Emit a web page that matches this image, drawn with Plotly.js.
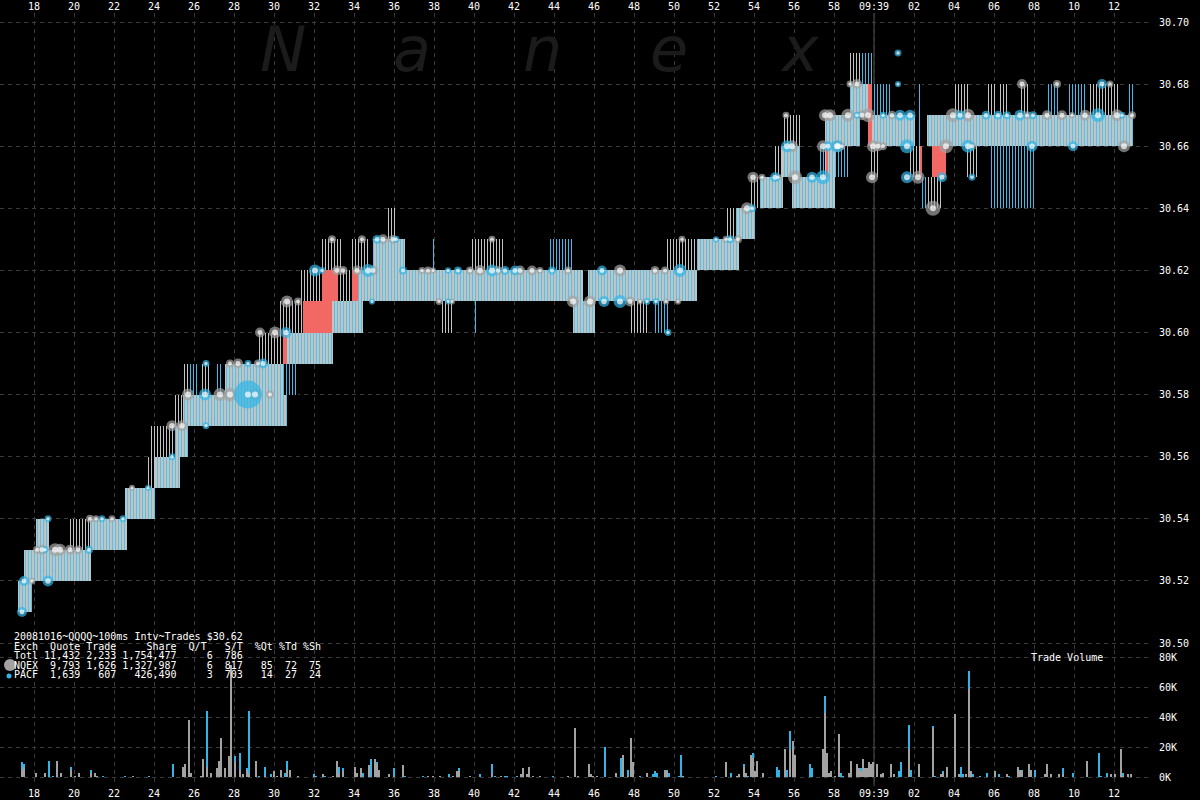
<!DOCTYPE html>
<html><head><meta charset="utf-8">
<script src="https://cdn.plot.ly/plotly-3.0.1.min.js"></script>
<style>html,body{margin:0;padding:0;background:#000;}#chart{width:1200px;height:800px;}</style>
</head><body><div id="chart"></div>
<script>
// ---------------- DATA ----------------
// time axis: seconds after 09:38:00
const timeTicks = [18,20,22,24,26,28,30,32,34,36,38,40,42,44,46,48,50,52,54,56,58,60,62,64,66,68,70,72];
const timeTickText = ['18','20','22','24','26','28','30','32','34','36','38','40','42','44','46','48','50','52','54','56','58','09:39','02','04','06','08','10','12'];
const priceTicks = [30.50,30.52,30.54,30.56,30.58,30.60,30.62,30.64,30.66,30.68,30.70];
const priceTickText = ['30.50','30.52','30.54','30.56','30.58','30.60','30.62','30.64','30.66','30.68','30.70'];
const volTicks = [0,20000,40000,60000,80000];
const volTickText = ['0K','20K','40K','60K','80K'];
const timeRange = [16.3, 73.9];
const minuteMark = 60;

// quote segments: start, end (s), low, high price, kind (B=best bid/ask band, G=NQEX quote, C=PACF quote, R=locked/crossed)
const qT0 = [17.2,17.5,18.1,18.55,20.8,22.55,24.05,25.05,25.4,27.55,30.65,32.9,34.2,34.95,44.95,45.7,51.15,53.1,54.3,55.4,55.9,57.55,57.55,58.8,59.8,62.65,63.55,
  19.8,23.6,23.8,25.0,25.45,26.4,28.55,29.15,30.3,31.3,33.2,32.4,33.8,35.7,39.9,38.3,47.8,49.6,52.6,53.8,54.95,55.5,58.8,59.8,61.7,62.7,63.95,64.65,65.65,66.3,67.3,70.8,
  25.8,27.15,30.45,37.9,40.05,43.3,43.75,49.05,58.1,57.2,59.4,59.9,62.15,62.3,65.8,68.65,69.65,72.65,
  30.45,31.45,32.4,33.9,57.6,59.7,62.3,62.9];
const qT1 = [17.9,18.55,18.75,20.85,22.65,24.05,25.3,25.7,30.65,30.45,32.95,34.45,45.45,36.55,46.05,51.15,53.25,54.05,55.45,56.3,58.05,58.7,59.3,59.7,62.05,63.55,72.95,
  20.8,24.05,25.05,25.45,25.8,26.8,28.65,30.45,31.45,32.4,33.9,33.45,34.7,36.05,41.55,38.95,48.65,51.15,53.1,54.3,55.4,56.3,59.3,60.2,62.3,63.4,64.7,65.2,66.05,66.7,67.7,72.3,
  26.15,27.4,31.2,38.0,40.2,43.35,44.95,49.7,58.65,57.55,59.9,60.9,62.4,62.7,68.05,69.3,70.65,72.95,
  30.65,32.9,33.2,34.2,57.7,59.9,62.4,63.6];
const qLo = [30.51,30.52,30.53,30.52,30.53,30.54,30.55,30.56,30.57,30.58,30.59,30.60,30.61,30.62,30.60,30.61,30.62,30.63,30.64,30.65,30.64,30.65,30.66,30.67,30.66,30.66,30.66,
  30.53,30.55,30.56,30.57,30.58,30.58,30.59,30.59,30.60,30.61,30.61,30.62,30.62,30.63,30.62,30.60,30.60,30.62,30.63,30.64,30.65,30.66,30.68,30.65,30.65,30.64,30.67,30.65,30.67,30.67,30.67,30.67,
  30.58,30.58,30.58,30.62,30.60,30.62,30.62,30.60,30.65,30.65,30.68,30.67,30.66,30.64,30.64,30.67,30.67,30.67,
  30.59,30.60,30.61,30.61,30.65,30.66,30.65,30.65];
const qHi = [30.52,30.53,30.54,30.53,30.54,30.55,30.56,30.57,30.58,30.59,30.60,30.61,30.62,30.63,30.61,30.62,30.63,30.64,30.65,30.66,30.65,30.66,30.67,30.68,30.67,30.67,30.67,
  30.54,30.56,30.57,30.58,30.59,30.59,30.60,30.60,30.61,30.62,30.62,30.63,30.63,30.64,30.63,30.61,30.61,30.63,30.64,30.65,30.66,30.67,30.69,30.66,30.66,30.65,30.68,30.66,30.68,30.68,30.68,30.68,
  30.59,30.59,30.59,30.63,30.61,30.63,30.63,30.61,30.66,30.66,30.69,30.68,30.68,30.65,30.66,30.68,30.68,30.68,
  30.60,30.61,30.62,30.62,30.66,30.68,30.66,30.66];
const qKind = ['B','B','B','B','B','B','B','B','B','B','B','B','B','B','B','B','B','B','B','B','B','B','B','B','B','B','B',
  'G','G','G','G','G','G','G','G','G','G','G','G','G','G','G','G','G','G','G','G','G','G','G','G','G','G','G','G','G','G','G','G',
  'C','C','C','C','C','C','C','C','C','C','C','C','C','C','C','C','C','C',
  'R','R','R','R','R','R','R','R'];

// trades: time (s), price, shares, exchange (N = NQEX, P = PACF)
const tradeT = [17.4,17.5,17.9,18.7,18.7,18.15,18.4,18.55,19.05,19.3,19.8,20.2,20.75,20.8,21.1,21.4,21.9,22.45,22.9,23.7,
  24.9,24.9,25.4,26.6,25.7,26.55,27.3,27.8,28.7,29.05,29.8,26.6,27.8,28.2,28.7,29.2,29.45,29.3,30.05,30.6,
  30.65,31.2,32.05,32.4,33.15,33.45,34.15,34.7,34.95,36.45,32.9,34.4,35.15,35.45,35.95,36.1,34.9,37.4,37.7,37.95,
  38.7,39.2,39.8,40.3,40.9,41.2,41.55,42.05,42.3,42.9,43.3,43.9,44.7,46.4,47.3,49.05,49.55,50.3,38.25,38.7,
  38.9,44.95,45.8,46.5,47.3,47.8,48.3,48.65,49.1,49.6,50.2,49.7,40.9,50.4,52.1,52.6,52.8,53.2,53.65,53.9,
  53.95,54.4,55.05,55.2,56.05,56.9,57.45,55.65,55.9,57.45,57.7,58.2,58.4,55.6,57.55,57.8,58.7,59.15,58.8,59.15,
  61.2,61.2,59.4,59.7,60.45,60.9,61.3,61.8,63.95,64.3,64.7,65.6,66.2,66.65,67.3,67.65,67.95,68.65,69.4,69.9,
  70.55,71.2,72.15,72.4,72.9,58.15,59.95,60.2,60.45,61.65,63.6,64.7,64.9,67.9,69.95,72.5,59.9,61.65,62.2,63.4,
  64.9,62.95,67.4,69.15,71.4,71.8];
const tradeP = [30.51,30.52,30.52,30.52,30.54,30.53,30.53,30.53,30.53,30.53,30.53,30.53,30.53,30.54,30.54,30.54,30.54,30.54,30.55,30.55,
  30.56,30.57,30.57,30.57,30.58,30.58,30.58,30.58,30.58,30.58,30.58,30.59,30.59,30.59,30.59,30.59,30.59,30.60,30.60,30.60,
  30.61,30.61,30.62,30.62,30.62,30.62,30.62,30.62,30.62,30.62,30.63,30.63,30.63,30.63,30.63,30.63,30.61,30.62,30.62,30.62,
  30.62,30.62,30.62,30.62,30.62,30.62,30.62,30.62,30.62,30.62,30.62,30.62,30.62,30.62,30.62,30.62,30.62,30.62,30.61,30.61,
  30.61,30.61,30.61,30.61,30.61,30.61,30.61,30.61,30.61,30.61,30.61,30.60,30.63,30.63,30.63,30.63,30.63,30.63,30.64,30.64,
  30.65,30.65,30.65,30.65,30.65,30.65,30.65,30.66,30.66,30.66,30.66,30.66,30.66,30.67,30.67,30.67,30.67,30.67,30.68,30.68,
  30.69,30.68,30.67,30.67,30.67,30.67,30.67,30.67,30.67,30.67,30.67,30.67,30.67,30.67,30.67,30.67,30.67,30.67,30.67,30.67,
  30.67,30.67,30.67,30.67,30.67,30.66,30.66,30.66,30.66,30.66,30.66,30.66,30.66,30.66,30.66,30.66,30.65,30.65,30.65,30.65,
  30.65,30.64,30.68,30.68,30.68,30.68];
const tradeShares = [1900,1900,300,2800,300,700,1900,300,4900,3800,1900,1200,700,700,300,300,300,300,100,100,
  300,2800,2800,300,3800,3800,4900,6200,40800,3800,700,300,700,1900,300,700,1900,1900,3800,2800,
  3800,700,3800,300,1900,1200,1900,4900,1900,700,700,700,1200,1900,1200,300,100,300,700,100,
  100,700,700,2800,3800,1200,1200,1900,1900,1900,300,700,700,1900,3800,1200,700,4900,300,100,
  100,3800,3800,2800,4900,1900,100,300,300,100,100,300,300,300,100,300,700,700,3800,700,
  2800,300,1900,300,6200,2800,6200,3800,3800,3800,1900,3800,300,300,3800,3800,4900,300,300,1900,
  300,100,1900,6200,300,1200,2800,2800,6200,1900,4900,1200,1200,700,2800,700,700,1900,1900,100,
  2800,6200,3800,300,700,3800,3800,1900,700,6200,6200,4900,700,2800,1900,3800,3800,3800,4900,1900,
  300,7700,1900,700,1900,300];
const tradeEx = ['P','P','N','P','P','N','N','P','N','N','N','N','P','N','N','P','N','P','N','P',
  'P','N','N','P','N','P','N','N','P','N','N','P','N','N','P','N','P','N','N','P',
  'N','N','P','P','N','N','N','P','N','P','N','N','P','N','N','P','P','N','N','N',
  'P','P','N','N','P','N','P','P','N','N','N','P','N','P','N','N','N','P','N','P',
  'N','N','N','P','P','N','N','P','P','N','N','P','N','N','P','N','P','N','N','P',
  'N','N','P','N','N','P','P','P','N','N','P','N','N','N','N','N','N','P','N','N',
  'P','P','N','N','P','N','P','P','N','P','N','P','P','P','P','N','P','N','N','N',
  'N','P','N','P','N','P','N','N','N','P','N','P','N','P','P','N','N','P','N','P',
  'P','N','N','N','P','N'];

// trade volume per 100ms interval (shares)
const volT = [17.4,17.5,18.1,18.55,18.75,18.95,19.15,19.35,19.85,20.05,
  20.25,20.85,21.05,21.15,21.45,22.55,22.95,23.75,24.95,25.45,
  25.55,25.75,25.85,26.35,26.45,26.65,26.85,27.15,27.25,27.35,
  27.55,27.75,27.85,28.05,28.3,28.45,28.65,28.75,29.1,29.25,
  29.55,29.85,30.0,30.15,30.35,30.55,30.65,30.8,31.2,32.0,
  32.1,32.45,32.55,32.95,33.15,33.25,33.45,34.05,34.15,34.35,
  34.45,34.75,34.85,35.05,35.15,35.25,35.75,36.0,36.45,36.55,
  37.45,37.7,37.95,38.3,38.75,38.95,39.15,39.25,39.8,40.3,
  40.9,41.05,41.35,41.55,41.65,42.15,42.35,42.45,42.65,42.75,
  42.95,43.3,43.95,44.7,45.05,45.2,45.75,45.85,45.95,46.15,
  46.55,47.1,47.35,47.45,47.7,47.85,47.95,48.3,48.65,48.95,
  49.05,49.15,49.55,49.65,49.75,50.25,50.35,50.45,52.1,52.6,
  52.85,53.15,53.25,53.5,53.6,53.7,53.85,53.95,54.05,54.15,
  54.45,55.15,55.25,55.55,55.65,55.8,55.95,56.05,56.8,56.9,
  57.45,57.55,57.65,57.75,57.85,58.05,58.25,58.35,58.45,58.75,
  58.85,59.15,59.25,59.35,59.45,59.55,59.65,59.75,59.85,59.95,
  60.15,60.35,60.45,60.85,61.0,61.25,61.35,61.75,61.85,62.25,
  62.95,63.05,63.35,63.45,63.65,64.05,64.25,64.35,64.45,64.6,
  64.75,64.85,64.95,65.3,65.65,66.05,66.25,66.65,66.75,67.2,
  67.3,67.4,67.75,67.85,68.05,68.55,68.65,68.85,69.25,69.45,
  69.95,70.65,71.25,71.35,71.65,71.85,72.05,72.35,72.45,72.7,72.85];
const volNQ = [5000,7000,3000,3000,0,0,11000,3000,5000,1000,
  3000,3000,3000,1000,0,0,1000,0,0,7000,
  9000,38000,3000,1000,12000,7000,3000,6000,11000,26000,
  6000,14000,75000,10000,5000,2000,5000,2000,11000,0,
  1000,0,4000,1000,5000,0,5000,5000,1000,1000,
  0,2000,0,1000,11000,2000,4000,7000,3000,6000,
  0,8000,0,12000,9000,5000,2000,1000,8000,0,
  0,1000,1000,1000,0,1000,4000,4000,1000,0,
  2000,0,1000,0,0,0,2000,6000,2000,7000,
  1000,1000,0,500,33000,1000,9000,2000,1000,1000,
  0,3000,0,15000,1000,26000,10000,0,3000,0,
  0,0,5000,4000,0,0,0,1000,0,10000,
  0,500,2000,7000,3000,0,15000,13000,4000,11000,
  3000,0,0,19000,0,18000,24000,15000,0,0,
  19000,43000,16000,3000,4000,1000,29000,0,0,3000,
  11000,9000,6000,4000,12000,6000,6000,10000,9000,10000,
  9000,2000,3000,9000,2000,0,0,19000,0,9000,
  33000,0,2000,3000,7000,42000,2000,0,0,2000,
  59000,4000,0,0,0,4000,0,2000,0,7000,
  5000,4000,9000,5000,0,2000,9000,2000,2000,2000,
  0,11000,0,0,0,2000,2000,19000,1000,2000,2000];
const volPA = [5000,2000,0,0,11000,1000,0,0,2000,0,
  0,2000,0,0,1000,1000,0,1000,9000,0,
  0,0,0,0,0,37000,0,0,0,0,
  0,0,0,4000,11000,0,1000,42000,0,1000,
  6000,2000,0,0,0,3000,6000,0,0,1000,
  1000,0,1000,0,0,5000,2000,0,0,0,
  3000,0,12000,0,1000,0,0,5000,0,1000,
  1000,0,0,0,2000,0,0,2000,0,2000,
  7000,1000,0,1000,1000,1000,0,0,0,0,
  0,0,500,0,0,0,0,0,0,0,
  20000,0,13000,0,4000,0,0,500,0,2000,
  4000,3000,0,1000,3000,500,15000,0,500,0,
  3000,0,0,2000,0,1000,0,3000,0,0,
  0,7000,5000,0,5000,13000,0,0,9000,6000,
  0,11000,0,0,0,0,0,3000,1000,0,
  0,0,0,2000,0,0,0,0,0,0,
  0,0,0,0,0,4000,10000,16000,5000,0,
  1000,500,0,1000,0,0,0,7000,2000,0,
  12000,0,2000,500,3000,0,2000,0,1000,0,
  0,1000,0,0,5000,0,0,0,0,4000,
  3000,0,16000,500,3000,0,0,0,2000,0,0];

const summaryLines = [
  '20081016~QQQQ~100ms Intv~Trades $30.62',
  'Exch  Quote Trade     Share  Q/T   S/T  %Qt %Td %Sh',
  'Totl 11,432 2,233 1,754,477     6  786',
  'NQEX  9,793 1,626 1,327,987     6  817   85  72  75',
  'PACF  1,639   607   426,490     3  703   14  27  24'
];
const watermark = ['N','a','n','e','x'];

// ---------------- STYLE ----------------
const GRAY = '#a2a2a2', CYAN = '#30b5e6', RED = '#f26864', GRID = '#3a3a3a';
const MONO = 'DejaVu Sans Mono';
const TOP = 13, BOT = 786;
const PX = x => x/1152, PY = y => (BOT - y)/(BOT - TOP);
const volTop = PY(650);

function rects(kind){
  const idx = qKind.map((k,i)=>k===kind?i:-1).filter(i=>i>=0);
  return {
    x: idx.map(i=>(qT0[i]+qT1[i])/2),
    width: idx.map(i=>qT1[i]-qT0[i]),
    base: idx.map(i=>qLo[i]),
    y: idx.map(i=>qHi[i]-qLo[i])
  };
}
function quoteTrace(kind, marker){
  return Object.assign({type:'bar', xaxis:'x', yaxis:'y', hoverinfo:'skip', marker:marker}, rects(kind));
}
const traces = [];
traces.push(quoteTrace('B', {color:'#bcc4c6', line:{width:0},
  pattern:{shape:'|', size:3, solidity:0.3, fgcolor:'#55bde3', bgcolor:'#bec5c7', fillmode:'replace'}}));
traces.push(quoteTrace('G', {color:'#000', line:{width:0},
  pattern:{shape:'|', size:3, solidity:0.34, fgcolor:'#c4c4c4', bgcolor:'#000', fillmode:'replace'}}));
traces.push(quoteTrace('C', {color:'#000', line:{width:0},
  pattern:{shape:'|', size:3, solidity:0.34, fgcolor:'#3dbcec', bgcolor:'#000', fillmode:'replace'}}));
traces.push(quoteTrace('R', {color:RED, line:{width:0}}));

// volume (stacked: NQEX below, PACF on top)
traces.push({type:'bar', xaxis:'x', yaxis:'y2', x:volT, y:volNQ, width:0.08, base:volT.map(()=>0),
  marker:{color:GRAY, line:{width:0}}, hoverinfo:'skip'});
traces.push({type:'bar', xaxis:'x', yaxis:'y2', x:volT, y:volPA, width:0.08, base:volNQ,
  marker:{color:CYAN, line:{width:0}}, hoverinfo:'skip'});

// trades
const tSize = tradeShares.map(s => 5 + 3.6*Math.sqrt(s/1000));
['N','P'].forEach(ex=>{
  const idx = tradeEx.map((e,i)=>e===ex?i:-1).filter(i=>i>=0);
  traces.push({type:'scatter', mode:'markers', xaxis:'x', yaxis:'y', hoverinfo:'skip',
    x: idx.map(i=>tradeT[i]), y: idx.map(i=>tradeP[i]),
    marker:{size: idx.map(i=>tSize[i]), color: ex==='N'?GRAY:CYAN, line:{width:0}}});
});
traces.push({type:'scatter', mode:'markers', xaxis:'x', yaxis:'y', hoverinfo:'skip',
  x: tradeT, y: tradeP,
  marker:{size: tSize.map(s=>Math.min(s*0.5, 6)), color:'#ffffff', line:{width:0}}});
// carrier for top time axis
traces.push({type:'scatter', mode:'markers', xaxis:'x2', yaxis:'y', x:[timeTicks[0]], y:[priceTicks[0]],
  marker:{opacity:0}, hoverinfo:'skip'});

const annotations = [];
const letterX = [283, 412, 542, 669, 800];
watermark.forEach((c,i)=>annotations.push({xref:'paper', yref:'paper', x:PX(letterX[i]), y:PY(50),
  xanchor:'center', yanchor:'middle', text:c, showarrow:false,
  font:{family:'DejaVu Sans', size:62, color:'#1b1b1b', style:'italic'}}));
const lineY = [636, 646, 655.5, 665, 674.5];
summaryLines.forEach((s,i)=>annotations.push({xref:'paper', yref:'paper', x:PX(13.5), y:PY(lineY[i]),
  xanchor:'left', yanchor:'middle', text:s.replace(/ /g,'\u00a0'), showarrow:false, borderpad:0, borderwidth:0,
  font:{family:MONO, size:10, color:'#ffffff'}}));
annotations.push({xref:'paper', yref:'paper', x:PX(1031), y:PY(657), xanchor:'left', yanchor:'middle',
  text:'Trade\u00a0Volume', showarrow:false, borderpad:0, borderwidth:0, font:{family:MONO, size:10, color:'#ffffff'}});

const shapes = [
  {type:'line', xref:'x', yref:'paper', x0:minuteMark, x1:minuteMark, y0:0, y1:1, layer:'below', line:{color:'#555', width:1}},
  {type:'circle', xref:'paper', yref:'paper', xsizemode:'pixel', ysizemode:'pixel', xanchor:PX(10), yanchor:PY(665),
    x0:-6, x1:6, y0:-6, y1:6, fillcolor:GRAY, line:{width:0}},
  {type:'circle', xref:'paper', yref:'paper', xsizemode:'pixel', ysizemode:'pixel', xanchor:PX(9), yanchor:PY(676),
    x0:-2.5, x1:2.5, y0:-2.5, y1:2.5, fillcolor:CYAN, line:{width:0}}
];

// price axis: 30.70 at y=22, 30.50 at y=643 (31.05 px per cent); volume: 0 at y=777, 80K at y=657
const pxPerCent = (643 - 22)/20;
const priceTop = 30.70 + (22 - TOP)/pxPerCent/100;
const priceBot = 30.50 - (650 - 643)/pxPerCent/100;
const pxPerK = (777 - 657)/80;
const volMin = -(BOT - 777)/pxPerK*1000, volMax = (777 - 650)/pxPerK*1000;

const tickFont = {family:MONO, size:10, color:'#ffffff'};
const layout = {
  width:1200, height:800, paper_bgcolor:'#000', plot_bgcolor:'#000',
  margin:{l:0, r:48, t:TOP, b:800-BOT, pad:0}, showlegend:false, hovermode:false, barmode:'overlay',
  bargap:0,
  xaxis:{range:timeRange, anchor:'y2', tickvals:timeTicks, ticktext:timeTickText, ticks:'', showline:false,
    showgrid:true, gridcolor:GRID, griddash:'4px,4px', gridwidth:1, zeroline:false, tickfont:tickFont, ticklabelstandoff:0},
  xaxis2:{range:timeRange, overlaying:'x', anchor:'y', side:'top', tickvals:timeTicks, ticktext:timeTickText, ticks:'',
    showline:false, showgrid:false, zeroline:false, tickfont:tickFont, ticklabelstandoff:0},
  yaxis:{domain:[volTop,1], range:[priceBot, priceTop], side:'right', anchor:'x', tickvals:priceTicks, ticktext:priceTickText,
    ticks:'', showline:false, showgrid:true, gridcolor:GRID, griddash:'4px,4px', zeroline:false, tickfont:tickFont, ticklabelstandoff:6},
  yaxis2:{domain:[0,volTop], range:[volMin, volMax], side:'right', anchor:'x', tickvals:volTicks, ticktext:volTickText,
    ticks:'', showline:false, showgrid:true, gridcolor:GRID, griddash:'4px,4px', zeroline:false, tickfont:tickFont, ticklabelstandoff:6},
  annotations:annotations, shapes:shapes
};
Plotly.newPlot('chart', traces, layout, {staticPlot:true, displayModeBar:false});
</script>
</body></html>
